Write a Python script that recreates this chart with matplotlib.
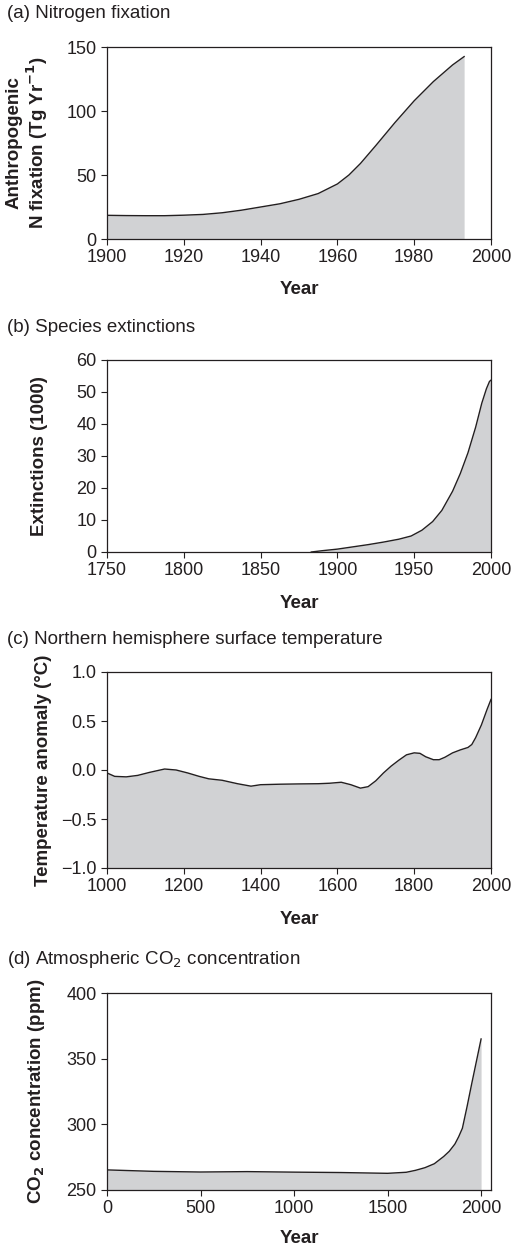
import numpy as np
import matplotlib
matplotlib.use("Agg")
import matplotlib.pyplot as plt

plt.rcParams['font.family'] = ['Liberation Sans', 'DejaVu Sans']

# (a) nitrogen fixation
n_years = [1900, 1905, 1910, 1915, 1920, 1925, 1930, 1935, 1940, 1945, 1950, 1955, 1960,
           1963, 1966, 1968, 1970, 1975, 1980, 1985, 1990, 1993]
n_fix = [18.5, 18.3, 18.2, 18.2, 18.6, 19.2, 20.5, 22.5, 25, 27.5, 31, 35.5, 43,
         50, 59, 66, 73, 91, 108, 123, 136, 142.5]

# (b) species extinctions (thousands)
ext_years = [1883, 1890, 1900, 1910, 1920, 1930, 1940, 1948, 1955, 1962, 1968, 1975, 1980,
             1985, 1990, 1994, 1997, 1999, 2000]
ext_vals = [0, 0.4, 0.9, 1.6, 2.3, 3.1, 4.0, 5.0, 6.8, 9.5, 13, 19, 24.5,
            31, 39, 46.5, 51, 53.3, 53.7]

# (c) northern hemisphere temperature anomaly
t_years = [1000, 1020, 1050, 1080, 1110, 1150, 1180, 1210, 1240, 1265, 1300, 1340, 1375,
           1400, 1450, 1500, 1550, 1580, 1610, 1635, 1660, 1680, 1700, 1720, 1740, 1760,
           1780, 1800, 1815, 1830, 1850, 1865, 1880, 1900, 1920, 1940, 1950, 1960, 1975,
           1990, 2000]
t_anom = [-0.03, -0.065, -0.07, -0.055, -0.025, 0.01, 0.0, -0.03, -0.065, -0.09, -0.105, -0.14, -0.165,
          -0.15, -0.145, -0.142, -0.14, -0.135, -0.125, -0.15, -0.185, -0.17, -0.11, -0.03, 0.04, 0.1,
          0.155, 0.175, 0.17, 0.135, 0.105, 0.105, 0.13, 0.175, 0.205, 0.23, 0.26, 0.33, 0.46,
          0.62, 0.72]

# (d) atmospheric CO2
c_years = [0, 250, 500, 750, 1000, 1250, 1500, 1600, 1650, 1700, 1750, 1800, 1830, 1860,
           1880, 1900, 1925, 1950, 1975, 2000]
c_ppm = [265.3, 264.2, 263.7, 264.0, 263.6, 263.3, 262.7, 263.5, 265, 267, 270, 275.5, 279.5, 285,
         290.5, 297, 313.5, 331, 348, 365]

fill_col = '#d1d2d4'
ink = '#231f20'
W, H = 514, 1248
fig = plt.figure(figsize=(W / 100, H / 100), dpi=100)


def make_ax(top, bottom):
    return fig.add_axes([107 / W, 1 - bottom / H, 384 / W, (bottom - top) / H])


def style(ax, ylabel, ylab_right, year_top):
    h = ax.get_position().height * H
    ax.tick_params(direction='out', length=4.5, width=0.8, pad=3, labelsize=13, colors=ink)
    for s in ax.spines.values():
        s.set_linewidth(0.9)
        s.set_color(ink)
    ax.set_xlabel('Year', fontsize=13.5, fontweight='bold', color=ink)
    ax.set_ylabel(ylabel, fontsize=13.5, fontweight='bold', color=ink, linespacing=1.1)
    ax.xaxis.set_label_coords(0.5, -year_top / h)
    ax.yaxis.set_label_coords((ylab_right - 107) / 384, 0.5)


# panel a
ax = make_ax(47, 239)
ax.fill_between(n_years, n_fix, 0, color=fill_col, lw=0)
ax.plot(n_years, n_fix, color=ink, lw=1.0)
ax.set_xlim(1900, 2000)
ax.set_ylim(0, 150)
ax.set_xticks([1900, 1920, 1940, 1960, 1980, 2000])
ax.set_yticks([0, 50, 100, 150])
style(ax, 'Anthropogenic\nN fixation (Tg Yr$^{\\mathbf{-1}}$)', 50, 42)
fig.text(7 / W, 1 - 13 / H, '(a) Nitrogen fixation', fontsize=13.5, va='center', color=ink)

# panel b
ax = make_ax(360, 552)
ax.fill_between(ext_years, ext_vals, 0, color=fill_col, lw=0)
ax.plot(ext_years, ext_vals, color=ink, lw=1.0)
ax.set_xlim(1750, 2000)
ax.set_ylim(0, 60)
ax.set_xticks([1750, 1800, 1850, 1900, 1950, 2000])
ax.set_yticks([0, 10, 20, 30, 40, 50, 60])
style(ax, 'Extinctions (1000)', 48, 43)
fig.text(7 / W, 1 - 328 / H, '(b) Species extinctions', fontsize=13.5, va='center', color=ink)

# panel c
ax = make_ax(672, 868)
ax.fill_between(t_years, t_anom, -1, color=fill_col, lw=0)
ax.plot(t_years, t_anom, color=ink, lw=1.0)
ax.set_xlim(1000, 2000)
ax.set_ylim(-1, 1)
ax.set_xticks([1000, 1200, 1400, 1600, 1800, 2000])
ax.set_yticks([-1.0, -0.5, 0.0, 0.5, 1.0])
ax.set_yticklabels(['\u22121.0', '\u22120.5', '0.0', '0.5', '1.0'])
style(ax, 'Temperature anomaly (\u00b0C)', 52, 43)
fig.text(7 / W, 1 - 640 / H, '(c) Northern hemisphere surface temperature', fontsize=13.5,
         va='center', color=ink)

# panel d
ax = make_ax(993, 1190)
ax.fill_between(c_years, c_ppm, 250, color=fill_col, lw=0)
ax.plot(c_years, c_ppm, color=ink, lw=1.0)
ax.set_xlim(0, 2053)
ax.set_ylim(250, 400)
ax.set_xticks([0, 500, 1000, 1500, 2000])
ax.set_yticks([250, 300, 350, 400])
style(ax, 'CO$_\\mathbf{2}$ concentration (ppm)', 47, 40)
fig.text(7 / W, 1 - 960 / H, '(d) Atmospheric CO$_2$ concentration', fontsize=13.5,
         va='center', color=ink)

fig.savefig('out.png', dpi=100)
